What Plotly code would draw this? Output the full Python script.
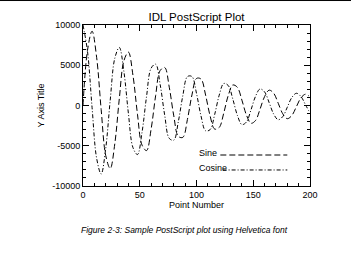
import plotly.graph_objects as go

# Point numbers
x_pts = [0, 4, 8, 12, 16, 20, 24, 28, 32, 36, 40, 44, 48, 52, 56, 60, 64, 68, 72, 76,
         80, 84, 88, 92, 96, 100, 104, 108, 112, 116, 120, 124, 128, 132, 136, 140,
         144, 148, 152, 156, 160, 164, 168, 172, 176, 180, 184, 188, 192, 196, 199]

sine_vals = [0, 6893, 9227, 5991, -498, -6196, -7836, -4771, 846, 5537, 6632, 3767,
             -1079, -4921, -5599, -2945, 1221, 4351, 4714, 2275, -1294, -3830, -3952,
             -1732, 1315, 3359, 3283, 1296, -1296, -2927, -2728, -943, 1252, 2549, 2258,
             668, -1185, -2209, -1866, -450, 1113, 1906, 1525, 281, -1029, -1639, -1240,
             -151, 945, 1406, 1180]

cosine_vals = [10000, 6694, -270, -6540, -8507, -5351, 688, 5862, 7212, 4245, -975,
               -5224, -6093, -3335, 1130, 4631, 5130, 2595, -1217, -4086, -4303, -1991,
               1260, 3589, 3596, 1501, -1311, -3139, -2995, -1124, 1278, 2736, 2482, 797,
               -1221, -2374, -2052, -550, 1141, 2052, 1684, 360, -1071, -1769, -1378,
               -212, 992, 1519, 1120, 98, -691]

x_ticks = [0, 50, 100, 150, 200]
x_labels = ["0", "50", "100", "150", "200"]
y_ticks = [-10000, -5000, 0, 5000, 10000]
y_labels = ["-10000", "-5000", "0", "5000", "10000"]

FONT = "Liberation Sans, Arial, Helvetica, sans-serif"

fig = go.Figure()
fig.add_trace(go.Scatter(x=x_pts, y=sine_vals, mode="lines", name="Sine",
                         line=dict(color="black", width=1, dash="6px,3px", shape="spline")))
fig.add_trace(go.Scatter(x=x_pts, y=cosine_vals, mode="lines", name="Cosine",
                         line=dict(color="black", width=1, dash="4px,2px,1px,2px", shape="spline")))

axis_common = dict(showline=True, linecolor="black", linewidth=1, mirror="ticks",
                   ticks="inside", ticklen=6, tickcolor="black", tickwidth=1,
                   showgrid=False, zeroline=False,
                   tickfont=dict(family=FONT, size=9, color="black"))

fig.update_xaxes(range=[0, 200], tickvals=x_ticks, ticktext=x_labels,
                 minor=dict(ticks="inside", dtick=10, ticklen=3, tickcolor="black", showgrid=False),
                 title=dict(text="Point Number", font=dict(family=FONT, size=9, color="black"), standoff=2),
                 **axis_common)
fig.update_yaxes(range=[-10000, 10000], tickvals=y_ticks, ticktext=y_labels,
                 minor=dict(ticks="inside", dtick=1000, ticklen=3, tickcolor="black", showgrid=False),
                 title=dict(text="Y Axis Title", font=dict(family=FONT, size=9, color="black"), standoff=6),
                 **axis_common)

annotations = [
    dict(text="Sine", x=100, y=-5940, xref="x", yref="y", xanchor="left", yanchor="middle",
         showarrow=False, font=dict(family=FONT, size=9, color="black")),
    dict(text="Cosine", x=100, y=-7730, xref="x", yref="y", xanchor="left", yanchor="middle",
         showarrow=False, font=dict(family=FONT, size=9, color="black")),
    dict(text="<i>Figure 2-3: Sample PostScript plot using Helvetica font</i>",
         x=0.445, y=-0.273, xref="paper", yref="paper", xanchor="center", yanchor="middle",
         showarrow=False, font=dict(family=FONT, size=8.5, color="black")),
]

shapes = [
    dict(type="line", xref="x", yref="y", x0=121, x1=180, y0=-6150, y1=-6150,
         line=dict(color="black", width=1, dash="6px,3px")),
    dict(type="line", xref="x", yref="y", x0=123, x1=180, y0=-8010, y1=-8010,
         line=dict(color="black", width=1, dash="4px,2px,1px,2px")),
    dict(type="line", xref="paper", yref="paper", x0=-0.366, x1=1.181, y0=1.152, y1=1.152,
         line=dict(color="black", width=1)),
]

fig.update_layout(
    width=351, height=271,
    margin=dict(l=83, r=41, t=25, b=85),
    paper_bgcolor="white", plot_bgcolor="white",
    showlegend=False,
    title=dict(text="IDL PostScript Plot", x=0.5, xref="paper", y=1 - 17 / 271, yanchor="middle",
               font=dict(family=FONT, size=11.5, color="black")),
    annotations=annotations,
    shapes=shapes,
)

fig.write_html("out.html")
